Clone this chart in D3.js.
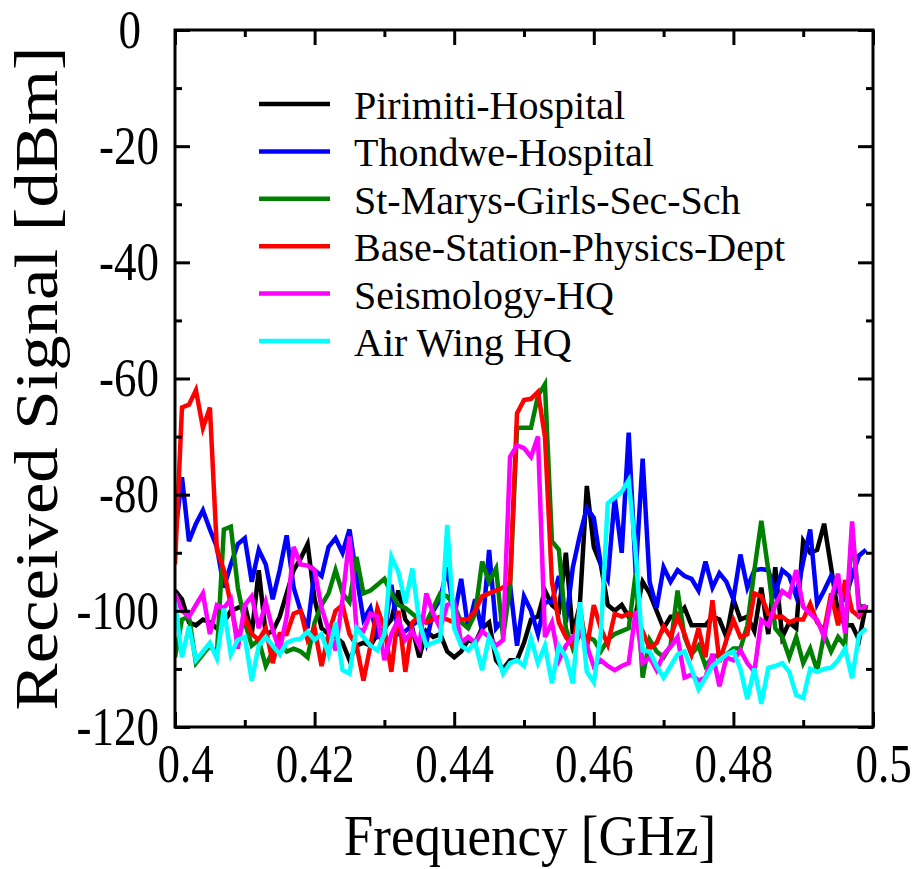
<!DOCTYPE html>
<html>
<head>
<meta charset="utf-8">
<script src="https://d3js.org/d3.v7.min.js"></script>
<style>
body { margin: 0; background: #fff; }
text { font-family: "Liberation Serif", "Times New Roman", serif; fill: #000; }
.domain { display: none; }
</style>
</head>
<body>
<svg id="chart" width="918" height="869"></svg>
<script>
// frequency grid of the sweep (GHz)
var freqStart = 0.4, freqStep = 0.001, nPoints = 100;

var seriesNames = ["Pirimiti-Hospital", "Thondwe-Hospital", "St-Marys-Girls-Sec-Sch",
  "Base-Station-Physics-Dept", "Seismology-HQ", "Air Wing HQ"];
var seriesColors = ["#000000", "#0000ff", "#008000", "#ff0000", "#ff00ff", "#00ffff"];

// received signal, dBm
var pirimiti = [-96.5,-98,-102,-102.5,-101.5,-102,-103,-102,-100,-99.5,
  -99,-104,-93,-104,-103.5,-101,-97,-93,-91,-88.5,
  -98,-103,-104,-104.5,-105.5,-108.5,-106,-105.5,-106,-104,
  -103,-101.5,-96.5,-101.5,-103,-108,-103.5,-104.5,-104,-107,
  -108,-107,-105,-105.5,-103,-102,-108.5,-110,-108.5,-108.5,
  -105.5,-101.5,-101,-96.5,-99,-100,-90,-104,-99,-78.5,
  -89,-92,-99,-100,-99,-101,-100.5,-95,-97,-100,
  -103,-101,-101,-99.5,-102.5,-102.5,-102.5,-101,-101.5,-104.5,
  -98,-101.5,-101,-103.5,-96,-104,-92.5,-104.5,-102,-103,
  -88,-90,-89.5,-85,-92.5,-100.5,-102.5,-102.5,-105,-99];
var thondwe = [-87,-77,-88,-85,-82.7,-86,-89,-96,-92,-88.5,
  -87.5,-95,-89.5,-92,-98,-93,-87,-96,-100,-103,
  -93,-94,-89,-87.5,-90,-86,-94,-101.5,-99.5,-104.5,
  -104,-95.5,-104,-103.5,-102.5,-101.5,-105.5,-100,-98,-92.5,
  -101,-94.5,-103,-98,-103.5,-89.5,-103,-101.5,-95.5,-106,
  -97.5,-100,-104,-98.5,-98.5,-94,-102,-92.5,-87,-82.3,
  -84,-92,-94.5,-80.5,-90,-69.3,-93.5,-73.8,-95,-99.5,
  -92.5,-95,-93,-94,-94.5,-96.5,-91.5,-96,-93.5,-95,
  -98,-90.3,-96,-93,-92.8,-93,-97,-93,-94,-97.5,
  -91.5,-86,-98.8,-96.5,-94,-96.5,-98,-94,-90.5,-89.5];
var stMarys = [-108,-101.5,-101,-109,-107.5,-106,-107.5,-86,-85.5,-96,
  -102,-106,-105,-109.5,-107,-105.5,-107,-106.5,-107,-108,
  -102,-99,-97,-93,-97,-98.5,-90.7,-97,-96.5,-95.5,
  -94.5,-97,-99,-99.5,-100.5,-101.5,-102,-99.5,-97,-97.5,
  -99,-102,-103,-100.5,-91.5,-95,-92.7,-104.5,-96,-68.5,
  -68.5,-68.5,-63,-61,-88,-89.5,-103,-106.5,-104,-104.5,
  -105,-107,-105,-104,-103.5,-103,-93.5,-111.5,-105,-107,
  -108,-106,-96.5,-104.5,-107.5,-106,-109.5,-108,-107.5,-107.5,
  -106.5,-106.5,-102.5,-93,-84.5,-93,-103,-104.5,-108,-104.5,
  -109,-106.5,-110.3,-104,-107,-104.5,-106,-86,-99,-99.5];
var baseStation = [-92,-65,-64.5,-62,-68.5,-65,-89.5,-93,-99,-105,
  -101,-104,-105,-103,-109,-104,-104,-100.5,-100,-105,
  -103,-109.5,-104,-100,-99,-104,-106,-112,-106,-99.6,
  -103,-110.5,-100,-110.5,-102,-101,-102,-101.5,-101,-101.5,
  -102,-101.5,-101.5,-100,-97.5,-97,-96.5,-96,-95,-66,
  -63.7,-63.5,-62.3,-70,-95,-102,-104.5,-106,-99.5,-106.5,
  -99,-103,-105.8,-100.5,-101,-100.5,-101,-103.5,-106.5,-105.5,
  -102.7,-104.5,-101,-104,-107.5,-103,-108,-98.2,-108.8,-105,
  -101.6,-104.5,-104,-97,-97.5,-100.5,-101,-101,-102,-101.5,
  -101.5,-98.8,-102,-103.4,-97,-102.5,-94.7,-100,-101,-99];
var seismology = [-97,-100,-101,-99,-97,-104,-99,-99.5,-98,-106.5,
  -99,-97.5,-103,-98.5,-103.3,-106.8,-101,-89,-92,-92.2,
  -93,-99.5,-103.3,-106.8,-98,-87.2,-103,-103.5,-100.5,-101,
  -108.5,-104,-101.5,-105,-103.5,-106,-97,-100.5,-103,-99,
  -98.5,-105.5,-104.5,-105.5,-103.5,-104.5,-106,-105,-73.5,-71.5,
  -72,-73.5,-70,-104.5,-102,-108.5,-106,-104.5,-103.6,-106,
  -109.6,-108.5,-109.5,-110.2,-109.5,-109,-100,-109,-108,-110.2,
  -107.5,-106.2,-104.5,-111.5,-111,-112,-111.5,-107.4,-113,-108,
  -108.5,-106.8,-109,-110.5,-101.6,-102.5,-99,-96.6,-97.5,-93,
  -99.3,-100.5,-101.6,-104.5,-98,-93.6,-103.9,-84.6,-100.5,-99];
var airWing = [-98.5,-108,-102.7,-108.5,-107,-105.5,-108.2,-99.6,-107.5,-105,
  -104.5,-112,-106,-104.5,-106,-107.5,-105.5,-105,-104.8,-103.6,
  -105,-104,-107.5,-102,-110.2,-110.8,-103,-104.5,-106,-106.8,
  -104,-90.7,-93.3,-98.7,-92.7,-102,-106,-105.5,-105,-85.2,
  -103,-106,-106.8,-105.5,-110.2,-104.5,-107,-110.8,-109,-108.5,
  -109.5,-104.8,-109,-106,-112.5,-106,-108,-112.5,-98.5,-110.5,
  -112.3,-104,-81.5,-80.5,-79.5,-77.5,-90,-106.8,-107,-109.5,
  -111.5,-109.5,-107.5,-107,-110,-113.5,-111.5,-109.5,-108.5,-107.5,
  -107,-110,-115.2,-109.9,-116,-109.8,-109.5,-109,-110.5,-114.5,
  -115,-110,-110.5,-110,-109.8,-108.5,-106.5,-111.6,-104.2,-103];

var allSeries = [pirimiti, thondwe, stMarys, baseStation, seismology, airWing];

var xMajorTicks = [0.4, 0.42, 0.44, 0.46, 0.48, 0.5];
var xMinorTicks = [0.41, 0.43, 0.45, 0.47, 0.49];
var yMajorTicks = [0, -20, -40, -60, -80, -100, -120];
var yMinorTicks = [-10, -30, -50, -70, -90, -110];

var svg = d3.select("#chart");
var plotL = 175, plotR = 873, plotT = 30, plotB = 727;

var x = d3.scaleLinear().domain([0.4, 0.5]).range([plotL, plotR]);
var y = d3.scaleLinear().domain([-120, 0]).range([plotB, plotT]);

var freqs = d3.range(nPoints).map(function(i) { return freqStart + freqStep * i; });

svg.append("clipPath").attr("id", "plotClip")
  .append("rect").attr("x", plotL).attr("y", plotT)
  .attr("width", plotR - plotL).attr("height", plotB - plotT);

// data lines
var line = d3.line()
  .x(function(d, i) { return x(freqs[i]); })
  .y(function(d) { return y(d); });

svg.append("g").attr("clip-path", "url(#plotClip)")
  .selectAll("path").data(allSeries).enter().append("path")
  .attr("d", line)
  .attr("fill", "none")
  .attr("stroke", function(d, i) { return seriesColors[i]; })
  .attr("stroke-width", 4.5);

// axes with inward ticks on all four sides
function styleTicks(g) {
  g.selectAll(".tick line").attr("stroke", "#000").attr("stroke-width", 3);
}
var plain = function(d) { return String(d); };

// labels are drawn a little taller than wide, like the original export
svg.append("g").attr("transform", "translate(0," + plotB + ")")
  .call(d3.axisBottom(x).tickValues(xMajorTicks).tickSize(-15).tickFormat(plain))
  .call(styleTicks)
  .selectAll("text").attr("font-size", 45)
  .attr("y", 14)
  .attr("transform", "scale(1,1.2)")
  .attr("dx", function(d) { return (d === 0.4 || d === 0.5) ? 10 : 0; });
svg.append("g").attr("transform", "translate(0," + plotB + ")")
  .call(d3.axisBottom(x).tickValues(xMinorTicks).tickSize(-7).tickFormat(""))
  .call(styleTicks);
svg.append("g").attr("transform", "translate(0," + plotT + ")")
  .call(d3.axisTop(x).tickValues(xMajorTicks).tickSize(-15).tickFormat(""))
  .call(styleTicks);
svg.append("g").attr("transform", "translate(0," + plotT + ")")
  .call(d3.axisTop(x).tickValues(xMinorTicks).tickSize(-7).tickFormat(""))
  .call(styleTicks);

svg.append("g").attr("transform", "translate(" + plotL + ",0)")
  .call(d3.axisLeft(y).tickValues(yMajorTicks).tickSize(-15).tickPadding(16).tickFormat(plain))
  .call(styleTicks)
  .selectAll("text").attr("font-size", 45)
  .attr("transform", "scale(1,1.2)")
  .attr("dx", function(d) { return d === 0 ? -18 : 0; });
svg.append("g").attr("transform", "translate(" + plotL + ",0)")
  .call(d3.axisLeft(y).tickValues(yMinorTicks).tickSize(-7).tickFormat(""))
  .call(styleTicks);
svg.append("g").attr("transform", "translate(" + plotR + ",0)")
  .call(d3.axisRight(y).tickValues(yMajorTicks).tickSize(-15).tickFormat(""))
  .call(styleTicks);
svg.append("g").attr("transform", "translate(" + plotR + ",0)")
  .call(d3.axisRight(y).tickValues(yMinorTicks).tickSize(-7).tickFormat(""))
  .call(styleTicks);

// frame
svg.append("rect")
  .attr("x", plotL).attr("y", plotT)
  .attr("width", plotR - plotL).attr("height", plotB - plotT)
  .attr("fill", "none").attr("stroke", "#000").attr("stroke-width", 3);

// axis titles
svg.append("text")
  .attr("transform", "translate(" + ((plotL + plotR) / 2 + 6) + ",855) scale(1,1.08)")
  .attr("text-anchor", "middle").attr("font-size", 53)
  .text("Frequency [GHz]");
svg.append("text")
  .attr("transform", "translate(57," + ((plotT + plotB) / 2) + ") scale(1,1.16) rotate(-90)")
  .attr("text-anchor", "middle").attr("font-size", 61)
  .text("Received Signal [dBm]");

// legend
var legend = svg.append("g").selectAll("g").data(seriesNames).enter().append("g")
  .attr("transform", function(d, i) { return "translate(0," + (104 + i * 47.4) + ")"; });
legend.append("line")
  .attr("x1", 259).attr("x2", 330)
  .attr("stroke", function(d, i) { return seriesColors[i]; })
  .attr("stroke-width", 4.5);
legend.append("text")
  .attr("x", 354).attr("y", 15)
  .attr("font-size", 40)
  .text(function(d) { return d; });
</script>
</body>
</html>
